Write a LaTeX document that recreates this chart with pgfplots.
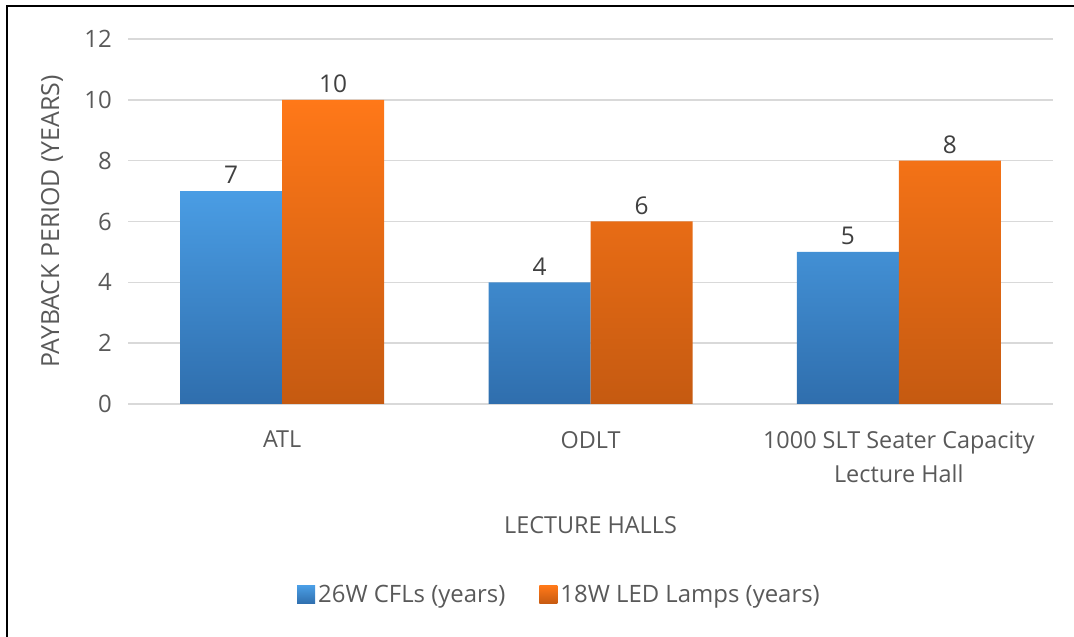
\documentclass[border=0pt]{standalone}
\usepackage{pgfplots}
\pgfplotsset{compat=1.18}
\usepackage{fontspec}
\setmainfont{Open Sans}
\definecolor{txt}{HTML}{595959}
\definecolor{lbl}{HTML}{404040}
\definecolor{gridc}{HTML}{D9D9D9}
\definecolor{btop}{HTML}{4A9DE4}
\definecolor{bbot}{HTML}{2F6EAD}
\definecolor{otop}{HTML}{FF7818}
\definecolor{obot}{HTML}{C55A11}
\begin{document}
\begin{tikzpicture}[x=1bp,y=1bp]
\useasboundingbox (0,0) rectangle (1074,637);
\draw[black, line width=2.5bp] (7,0) -- (7,631) -- (1074,631);
\begin{axis}[
  at={(128bp,233bp)}, anchor=south west,
  width=925bp, height=365bp, scale only axis,
  ymin=0, ymax=12, ytick={0,2,...,12},
  xmin=-0.5, xmax=2.5, xtick={0,1,2},
  xticklabels={ATL,ODLT,{1000 SLT Seater Capacity\\Lecture Hall}},
  ybar=0pt, bar width=102bp,
  axis line style={draw=none},
  major tick length=0pt,
  ymajorgrids, grid style={gridc, line width=1.5bp},
  font=\fontsize{24}{34}\selectfont,
  /pgf/number format/assume math mode=true,
  ticklabel style={txt},
  yticklabel style={anchor=east, inner sep=0pt, xshift=-16bp, font=\fontsize{24}{28}\selectfont},
  xticklabel style={anchor=north, inner sep=0pt, yshift=-27bp, align=center, font=\fontsize{23.5}{34}\selectfont},
  xlabel={LECTURE HALLS},
  xlabel style={at={(0.5,-0.3315)}, anchor=center, txt, font=\fontsize{23.5}{28}\selectfont},
  ylabel={PAYBACK PERIOD (YEARS)},
  ylabel style={at={(-0.0822,0.5)}, anchor=center, txt, font=\fontsize{25}{30}\selectfont},
  nodes near coords,
  every node near coord/.append style={lbl, inner sep=0pt, yshift=7bp, font=\fontsize{24.5}{28}\selectfont},
  legend style={at={(0.467,-0.523)}, anchor=center, draw=none, fill=none,
    legend columns=2, font=\fontsize{24}{28}\selectfont, text=txt,
    nodes={inner sep=3bp},
    /tikz/every even column/.append style={column sep=31bp}},
  legend image code/.code={\path[#1, draw=none] (0bp,-9bp) rectangle (18bp,9bp);},
]
\addplot[draw=none, top color=btop, bottom color=bbot] coordinates {(0,7) (1,4) (2,5)};
\addplot[draw=none, top color=otop, bottom color=obot] coordinates {(0,10) (1,6) (2,8)};
\legend{26W CFLs (years), 18W LED Lamps (years)}
\end{axis}
\end{tikzpicture}
\end{document}
